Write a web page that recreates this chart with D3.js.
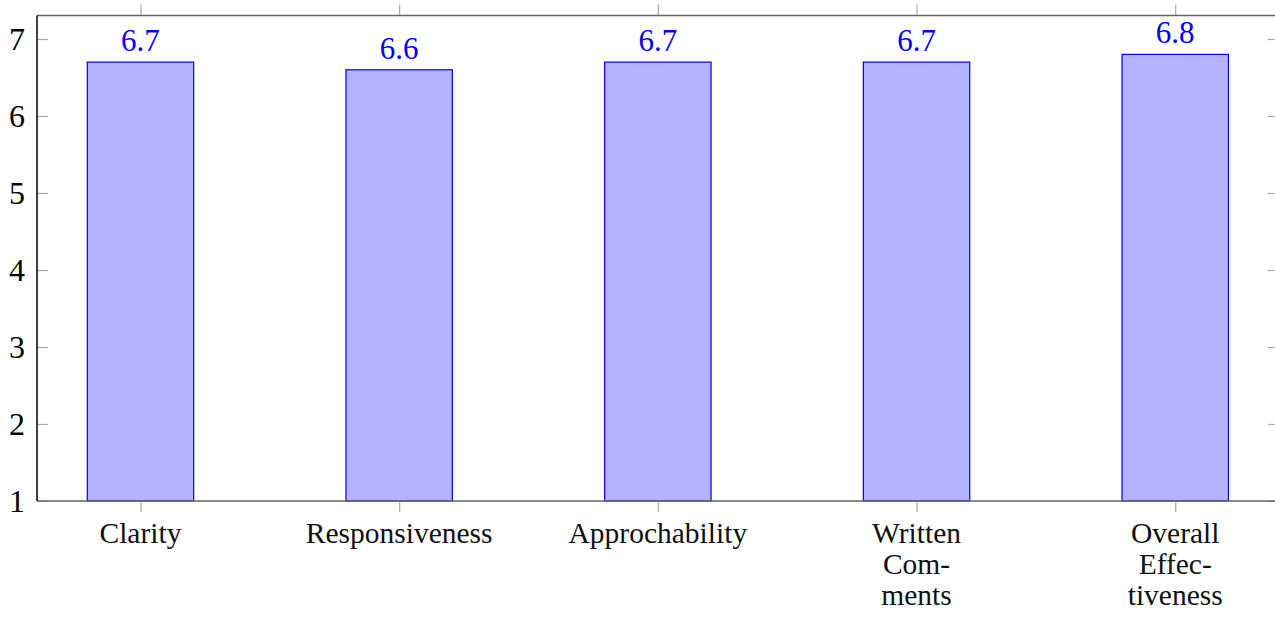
<!DOCTYPE html>
<html>
<head>
<meta charset="utf-8">
<script src="https://cdn.jsdelivr.net/npm/d3@7"></script>
<style>
  html, body { margin: 0; padding: 0; background: #fff; }
  svg { display: block; }
</style>
</head>
<body>
<svg id="chart" width="1275" height="620"></svg>
<script>
const categories = ["Clarity", "Responsiveness", "Approchability", "Written Comments", "Overall Effectiveness"];
const categoryLines = [["Clarity"], ["Responsiveness"], ["Approchability"], ["Written", "Com-", "ments"], ["Overall", "Effec-", "tiveness"]];
const values = [6.7, 6.6, 6.7, 6.7, 6.8];
const valueLabels = ["6.7", "6.6", "6.7", "6.7", "6.8"];
const yTicks = [1, 2, 3, 4, 5, 6, 7];

(function () {
const svg = d3.select("#chart");
const pLeft = 37, pRight = 1278.7, pTop = 15.5, pBottom = 501;

const x = d3.scaleLinear().domain([-0.4, categories.length - 0.6]).range([pLeft, pRight]);
const y = d3.scaleLinear().domain([1, 7.305]).range([pBottom, pTop]);
const barW = 106.4;

// bars
svg.append("g").selectAll("rect").data(values).join("rect")
  .attr("x", (d, i) => x(i) - barW / 2)
  .attr("y", d => y(d))
  .attr("width", barW)
  .attr("height", d => y(1) - y(d))
  .attr("fill", "#b3b3ff")
  .attr("stroke", "#0000ff")
  .attr("stroke-width", 1.2);

// value labels
svg.append("g").selectAll("text").data(values).join("text")
  .attr("x", (d, i) => x(i))
  .attr("y", d => y(d) - 11)
  .attr("text-anchor", "middle")
  .attr("fill", "#0000ff")
  .attr("font-family", "'Liberation Serif', serif")
  .attr("font-size", 31)
  .text((d, i) => valueLabels[i]);

// y axis ticks (inward both sides)
const gyl = svg.append("g").attr("transform", `translate(${pLeft},0)`)
  .call(d3.axisRight(y).tickValues(yTicks).tickSize(11).tickFormat(""));
gyl.select(".domain").remove();
gyl.selectAll(".tick line").attr("stroke", "#aaa").attr("stroke-width", 1.2);

const gyr = svg.append("g").attr("transform", `translate(${pRight},0)`)
  .call(d3.axisLeft(y).tickValues(yTicks).tickSize(11).tickFormat(""));
gyr.select(".domain").remove();
gyr.selectAll(".tick line").attr("stroke", "#aaa").attr("stroke-width", 1.2);

// y tick labels
svg.append("g").selectAll("text").data(yTicks).join("text")
  .attr("x", 25)
  .attr("y", d => y(d))
  .attr("dy", "0.34em")
  .attr("text-anchor", "end")
  .attr("font-family", "'Liberation Serif', serif")
  .attr("font-size", 32)
  .attr("fill", "#000")
  .text(d => d);

// x ticks outward top and bottom
const idx = d3.range(categories.length);
const gxb = svg.append("g").attr("transform", `translate(0,${pBottom})`)
  .call(d3.axisBottom(x).tickValues(idx).tickSize(11).tickFormat(""));
gxb.select(".domain").remove();
gxb.selectAll(".tick line").attr("stroke", "#aaa").attr("stroke-width", 1.2);

const gxt = svg.append("g").attr("transform", `translate(0,${pTop})`)
  .call(d3.axisTop(x).tickValues(idx).tickSize(11).tickFormat(""));
gxt.select(".domain").remove();
gxt.selectAll(".tick line").attr("stroke", "#aaa").attr("stroke-width", 1.2);

// spines
svg.append("line").attr("x1", pLeft).attr("x2", pRight).attr("y1", pTop).attr("y2", pTop)
  .attr("stroke", "#666").attr("stroke-width", 1.5);
svg.append("line").attr("x1", pLeft).attr("x2", pRight).attr("y1", pBottom).attr("y2", pBottom)
  .attr("stroke", "#666").attr("stroke-width", 1.5);
svg.append("line").attr("x1", pLeft).attr("x2", pLeft).attr("y1", pTop).attr("y2", pBottom)
  .attr("stroke", "#000").attr("stroke-width", 1.5);
svg.append("line").attr("x1", pRight).attr("x2", pRight).attr("y1", pTop).attr("y2", pBottom)
  .attr("stroke", "#000").attr("stroke-width", 1.5);

// category labels
const cat = svg.append("g").selectAll("text").data(categoryLines).join("text")
  .attr("x", (d, i) => x(i))
  .attr("y", pBottom + 42)
  .attr("text-anchor", "middle")
  .attr("font-family", "'Liberation Serif', serif")
  .attr("font-size", 29.5)
  .attr("fill", "#111");
cat.selectAll("tspan").data((d, i) => d.map(l => ({ l, i }))).join("tspan")
  .attr("x", d => x(d.i))
  .attr("dy", (d, j) => j === 0 ? 0 : 31)
  .text(d => d.l);
})();
</script>
</body>
</html>
